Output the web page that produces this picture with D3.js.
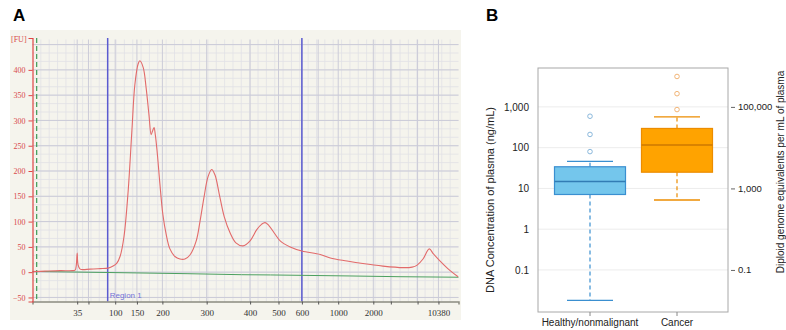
<!DOCTYPE html>
<html>
<head>
<meta charset="utf-8">
<script src="https://cdn.jsdelivr.net/npm/d3@7"></script>
<style>
  body { margin: 0; background: #fff; }
</style>
</head>
<body>
<div id="wrapper"></div>
<script>
// panel A: electropherogram, x in migration time (s), labelled with ladder sizes
const ladderBp = [35, 50, 100, 150, 200, 300, 400, 500, 600, 700, 1000, 2000, 3000, 7000, 10380];
const ladderTime = [48.7, 51.4, 57.8, 63.0, 69.1, 79.7, 90.1, 96.9, 102.5, 106.4, 111.2, 119.6, 123.8, 130.2, 135.2];
const ladderShown = [35, 100, 150, 200, 300, 400, 500, 600, 1000, 2000, 10380];
const fuTicks = [-50, 0, 50, 100, 150, 200, 250, 300, 350, 400];
const regionTime = [56.0, 102.5];
const markerTime = 39.0;

const traceTime = [38.1, 41.0, 44.6, 47.5, 48.2, 48.5, 48.7, 48.9, 49.4, 51.8, 54.2, 56.1, 57.3, 58.2,
    59.0, 59.9, 60.9, 61.8, 62.5, 63.3, 63.7, 64.5, 65.2, 65.9, 66.4, 66.7, 67.1, 67.4, 67.8,
    68.5, 69.2, 70.0, 70.9, 72.1, 73.3, 74.5, 75.7, 77.2, 78.1, 79.1, 80.0, 80.9, 81.7, 82.7,
    83.9, 85.3, 86.7, 88.4, 90.1, 91.7, 92.9, 93.7, 94.6, 96.1, 97.3, 99.7, 102.5, 106.9, 109.3,
    113.3, 117.1, 121.9, 126.7, 128.9, 130.1, 131.5, 133.0, 134.0, 135.6, 138.0, 139.9];
const traceFU = [1, 2, 3, 3, 4, 15, 38, 15, 6, 6, 7, 8, 12, 18,
    32, 70, 160, 280, 370, 412, 418, 405, 365, 310, 272, 278, 286, 272, 242,
    175, 115, 75, 46, 31, 26, 26, 34, 62, 100, 150, 188, 203, 192, 155,
    110, 78, 58, 52, 62, 84, 95, 98, 92, 75, 62, 50, 42, 35, 28,
    22, 17, 12, 9, 10, 14, 26, 46, 36, 22, 3, -9];

const baseTime = [38.0, 63.0, 75.0, 88.0, 95.0, 114.0, 126.0, 140.0];
const baseFU = [1.5, -1.5, -3, -5, -5.5, -7.5, -9, -10];

// panel B: box plots (ng/mL)
const groups = ["Healthy/nonmalignant", "Cancer"];
const whiskerLow = [0.018, 5.2];
const quart1 = [7.1, 25];
const medians = [14.8, 116];
const quart3 = [34, 296];
const whiskerHigh = [46, 570];
const outliers = [[80, 211, 590], [860, 2110, 5580]];
const concTicks = [0.1, 1, 10, 100, 1000];
const geTicks = [100000, 1000, 10];
const geLabels = ["100,000", "1,000", "0.1"];

const fills = ["#74c6ec", "#ffa300"];
const strokes = ["#3a8fd0", "#ec8c00"];
const pale = ["#8ab8dc", "#f2b577"];

function buildPlot(id) {
    const svg = d3.select("#" + id).append("svg")
        .attr("width", 786)
        .attr("height", 330)
        .style("font-family", "Liberation Sans, Arial, sans-serif");

    svg.append("text").attr("x", 13).attr("y", 21)
        .style("font-size", "17px").style("font-weight", "bold").text("A");
    svg.append("text").attr("x", 486).attr("y", 21)
        .style("font-size", "17px").style("font-weight", "bold").text("B");

    // ---------- A ----------
    const x = d3.scaleLinear().domain([38, 140]).range([32.5, 458.5]);
    const y = d3.scaleLinear().domain([-58, 463]).range([301.5, 38]);

    const a = svg.append("g");
    a.append("rect")
        .attr("x", 10).attr("y", 30)
        .attr("width", 451).attr("height", 290)
        .attr("fill", "#f5f4ed");

    // minor grid
    a.append("g").selectAll("line")
        .data(d3.range(40, 140, 2))
        .join("line")
        .attr("x1", d => x(d)).attr("x2", d => x(d))
        .attr("y1", y(-58)).attr("y2", y(460))
        .attr("stroke", "#e1e1e6").attr("stroke-width", 0.8);
    a.append("g").selectAll("line")
        .data(d3.range(-50, 451, 50 / 3))
        .join("line")
        .attr("x1", x(38)).attr("x2", x(140))
        .attr("y1", d => y(d)).attr("y2", d => y(d))
        .attr("stroke", "#e1e1e6").attr("stroke-width", 0.8);
    // major grid
    a.append("g").selectAll("line")
        .data(ladderTime)
        .join("line")
        .attr("x1", d => x(d)).attr("x2", d => x(d))
        .attr("y1", y(-58)).attr("y2", y(460))
        .attr("stroke", "#cbcbd8").attr("stroke-width", 1);
    a.append("g").selectAll("line")
        .data(d3.range(-50, 451, 50))
        .join("line")
        .attr("x1", x(38)).attr("x2", x(140))
        .attr("y1", d => y(d)).attr("y2", d => y(d))
        .attr("stroke", "#cbcbd8").attr("stroke-width", 1);

    // marker and region lines
    a.append("line")
        .attr("x1", x(markerTime)).attr("x2", x(markerTime))
        .attr("y1", y(463)).attr("y2", y(-58))
        .attr("stroke", "#3d9b55").attr("stroke-width", 1.2)
        .attr("stroke-dasharray", "5,3");
    a.append("g").selectAll("line")
        .data(regionTime)
        .join("line")
        .attr("x1", d => x(d)).attr("x2", d => x(d))
        .attr("y1", y(463)).attr("y2", y(-58))
        .attr("stroke", "#5b5bd0").attr("stroke-width", 1.5);
    a.append("text")
        .attr("x", x(regionTime[0]) + 2).attr("y", y(-52))
        .style("font-size", "8px").style("fill", "#7474d8")
        .text("Region 1");

    const baseLine = d3.line()
        .x(d => x(d[0]))
        .y(d => y(d[1]));
    a.append("path")
        .attr("d", baseLine(d3.zip(baseTime, baseFU)))
        .attr("fill", "none")
        .attr("stroke", "#4ca060").attr("stroke-width", 1);

    const traceLine = d3.line()
        .x(d => x(d[0]))
        .y(d => y(d[1]))
        .curve(d3.curveCatmullRom);
    a.append("path")
        .attr("d", traceLine(d3.zip(traceTime, traceFU)))
        .attr("fill", "none")
        .attr("stroke", "#e26a6a").attr("stroke-width", 1.1);

    const xAxis = d3.axisBottom(x)
        .tickValues(ladderTime)
        .tickSize(3)
        .tickFormat((d, i) => ladderShown.includes(ladderBp[i]) ? ladderBp[i] : "");
    const gx = a.append("g")
        .attr("transform", "translate(0," + y(-58) + ")")
        .call(xAxis);
    gx.select(".domain").attr("stroke", "#8a8a80").attr("stroke-width", 1.5);
    gx.selectAll(".tick line").attr("stroke", "#555");
    gx.selectAll("text")
        .attr("dy", "0.9em")
        .style("font-family", "Liberation Serif, serif")
        .style("font-size", "9px").style("fill", "#333");

    const yAxis = d3.axisLeft(y)
        .tickValues(fuTicks)
        .tickSize(4);
    const gy = a.append("g")
        .attr("transform", "translate(" + x(38) + ",0)")
        .call(yAxis);
    gy.select(".domain").attr("stroke", "#e04545").attr("stroke-width", 1.2);
    gy.selectAll(".tick line").attr("stroke", "#e04545");
    gy.selectAll("text")
        .style("font-family", "Liberation Serif, serif")
        .style("font-size", "8px").style("fill", "#d84a4a");
    a.append("text")
        .attr("x", 11).attr("y", 42)
        .style("font-family", "Liberation Serif, serif")
        .style("font-size", "8px").style("fill", "#d84a4a")
        .text("[FU]");

    // ---------- B ----------
    const yc = d3.scaleLog().domain([0.0093, 9000]).range([312, 68]);
    const yg = d3.scaleLog().domain([0.93, 900000]).range([312, 68]);
    const xc = d3.scaleBand().domain(groups).range([546.5, 720.5]);
    const boxW = 71, capW = 46;

    const b = svg.append("g");
    b.append("g").selectAll("line")
        .data(concTicks)
        .join("line")
        .attr("x1", 538).attr("x2", 728)
        .attr("y1", d => yc(d)).attr("y2", d => yc(d))
        .attr("stroke", "#ececec");
    b.append("rect")
        .attr("x", 538).attr("y", 68)
        .attr("width", 190).attr("height", 244)
        .attr("fill", "none").attr("stroke", "#a8a8a8");

    groups.forEach((g, i) => {
        const cx = xc(g) + xc.bandwidth() / 2;
        const grp = b.append("g");
        // whiskers
        grp.selectAll("line.wh")
            .data([[quart3[i], whiskerHigh[i]], [quart1[i], whiskerLow[i]]])
            .join("line")
            .attr("x1", cx).attr("x2", cx)
            .attr("y1", d => yc(d[0])).attr("y2", d => yc(d[1]))
            .attr("stroke", strokes[i]).attr("stroke-width", 1.2)
            .attr("stroke-dasharray", "4,3");
        grp.selectAll("line.cap")
            .data([whiskerHigh[i], whiskerLow[i]])
            .join("line")
            .attr("x1", cx - capW / 2).attr("x2", cx + capW / 2)
            .attr("y1", d => yc(d)).attr("y2", d => yc(d))
            .attr("stroke", strokes[i]).attr("stroke-width", 1.3);
        grp.append("rect")
            .attr("x", cx - boxW / 2).attr("width", boxW)
            .attr("y", yc(quart3[i]))
            .attr("height", yc(quart1[i]) - yc(quart3[i]))
            .attr("fill", fills[i])
            .attr("stroke", strokes[i]).attr("stroke-width", 1.2);
        grp.append("line")
            .attr("x1", cx - boxW / 2).attr("x2", cx + boxW / 2)
            .attr("y1", yc(medians[i])).attr("y2", yc(medians[i]))
            .attr("stroke", d3.color(strokes[i]).darker(0.4)).attr("stroke-width", 1.6);
        grp.selectAll("circle")
            .data(outliers[i])
            .join("circle")
            .attr("cx", cx).attr("cy", d => yc(d))
            .attr("r", 2.3)
            .attr("fill", "none")
            .attr("stroke", pale[i]).attr("stroke-width", 1);
    });

    const bottom = d3.axisBottom(xc).tickSize(4);
    const gb = b.append("g")
        .attr("transform", "translate(0,312)")
        .call(bottom);
    gb.select(".domain").remove();
    gb.selectAll(".tick line").attr("stroke", "#888");
    gb.selectAll("text").style("font-size", "10px").style("fill", "#222");

    const left = d3.axisLeft(yc)
        .tickValues(concTicks)
        .tickSize(0)
        .tickPadding(9)
        .tickFormat(d3.format(",~g"));
    const gl = b.append("g")
        .attr("transform", "translate(538,0)")
        .call(left);
    gl.select(".domain").remove();
    gl.selectAll("text").style("font-size", "10px").style("fill", "#222");

    const right = d3.axisRight(yg)
        .tickValues(geTicks)
        .tickSize(4)
        .tickPadding(3)
        .tickFormat((d, i) => geLabels[i]);
    const gr = b.append("g")
        .attr("transform", "translate(731,0)")
        .call(right);
    gr.select(".domain").remove();
    gr.selectAll(".tick line").attr("stroke", "#666");
    gr.selectAll("text").style("font-size", "9.5px").style("fill", "#222");

    b.append("text")
        .attr("text-anchor", "middle")
        .attr("transform", "translate(494,200)rotate(-90)")
        .style("font-size", "11px").style("fill", "#222")
        .text("DNA Concentration of plasma (ng/mL)");
    b.append("text")
        .attr("text-anchor", "middle")
        .attr("transform", "translate(784,172)rotate(-90)")
        .style("font-size", "10px").style("fill", "#222")
        .text("Diploid genome equivalents per mL of plasma");
}

buildPlot("wrapper");
</script>
</body>
</html>
